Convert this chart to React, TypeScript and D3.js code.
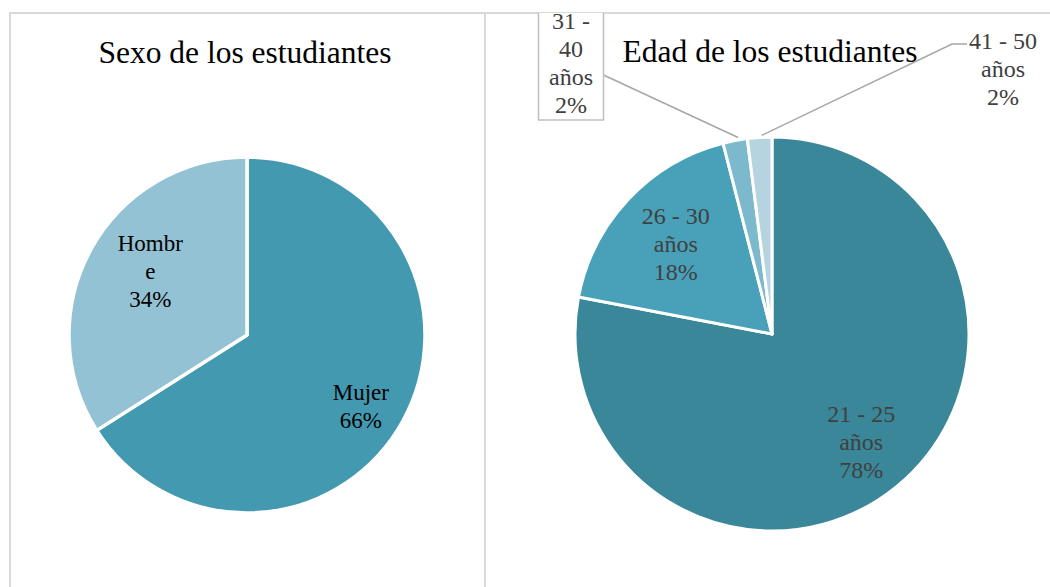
import React from 'react';
import * as d3 from 'd3';

// Data
const sexCategories = ['Mujer', 'Hombre'];
const sexValues = [66, 34];
const sexLabelLines = [['Mujer'], ['Hombr', 'e']];
const sexColors = ['#4399b0', '#93c2d4'];

const ageCategories = ['21 - 25 años', '26 - 30 años', '31 - 40 años', '41 - 50 años'];
const ageValues = [78, 18, 2, 2];
const ageLabelLines = [['21 - 25', 'años'], ['26 - 30', 'años'], ['31 -', '40', 'años'], ['41 - 50', 'años']];
const ageColors = ['#3a8799', '#48a1b8', '#7db9cd', '#b5d4e0'];

const W = 1050;
const H = 587;
const FONT = "'Liberation Serif', 'Times New Roman', serif";
const LINE = 28;

type Datum = { name: string; value: number; lines: string[]; color: string };

const pie = d3
  .pie<Datum>()
  .value((d) => d.value)
  .sort(null);

function centroidAt(a: d3.PieArcDatum<Datum>, r: number): [number, number] {
  const mid = (a.startAngle + a.endAngle) / 2;
  return [r * Math.sin(mid), -r * Math.cos(mid)];
}

function TextBlock({ x, y, lines, size, fill }: { x: number; y: number; lines: string[]; size: number; fill: string }) {
  const n = lines.length;
  return (
    <text x={x} textAnchor="middle" fontFamily={FONT} fontSize={size} fill={fill}>
      {lines.map((l, i) => (
        <tspan key={i} x={x} y={y + (i - (n - 1) / 2) * LINE + size * 0.33}>
          {l}
        </tspan>
      ))}
    </text>
  );
}

const App = () => {
  // left pie
  const sexData: Datum[] = sexCategories.map((c, i) => ({
    name: c,
    value: sexValues[i],
    lines: [...sexLabelLines[i], `${sexValues[i]}%`],
    color: sexColors[i],
  }));
  const sexArcs = pie(sexData);
  const sexR = 178;
  const sexCx = 247;
  const sexCy = 335;
  const sexArc = d3.arc<d3.PieArcDatum<Datum>>().innerRadius(0).outerRadius(sexR);
  const sexLabelR = [0.73, 0.62];
  const sexLabelDy = [9, -10];

  // right pie
  const ageData: Datum[] = ageCategories.map((c, i) => ({
    name: c,
    value: ageValues[i],
    lines: [...ageLabelLines[i], `${ageValues[i]}%`],
    color: ageColors[i],
  }));
  const ageArcs = pie(ageData);
  const ageR = 197;
  const ageCx = 772;
  const ageCy = 334;
  const ageArc = d3.arc<d3.PieArcDatum<Datum>>().innerRadius(0).outerRadius(ageR);
  const ageLabelR = [0.71, 0.67];

  const labelGray = '#404040';
  const leaderGray = '#a6a6a6';

  // outside labels for the two small slices
  const box31 = { x: 538.5, y: 2, w: 65, h: 118 };
  const tip31 = centroidAt(ageArcs[2], ageR);
  const tip41 = centroidAt(ageArcs[3], ageR);

  return (
    <svg width={W} height={H} style={{ position: 'absolute', left: 0, top: 0, background: '#fff' }}>
      <defs>
        <clipPath id="rightClip">
          <rect x={486} y={13} width={W - 486} height={H - 13} />
        </clipPath>
      </defs>

      {/* panel borders */}
      <line x1={9} x2={W} y1={13} y2={13} stroke="#d9d9d9" strokeWidth={2} />
      <line x1={10} x2={10} y1={12} y2={H} stroke="#d9d9d9" strokeWidth={2} />
      <line x1={485} x2={485} y1={12} y2={H} stroke="#d9d9d9" strokeWidth={2} />

      {/* left chart */}
      <text x={245} y={63} textAnchor="middle" fontFamily={FONT} fontSize={31.5} fill="#000">
        Sexo de los estudiantes
      </text>
      <g transform={`translate(${sexCx},${sexCy})`}>
        {sexArcs.map((a, i) => (
          <path key={i} d={sexArc(a) || ''} fill={a.data.color} stroke="#fff" strokeWidth={3.5} strokeLinejoin="round" />
        ))}
        {sexArcs.map((a, i) => {
          const [x, y] = centroidAt(a, sexR * sexLabelR[i]);
          return <TextBlock key={i} x={x} y={y + sexLabelDy[i]} lines={a.data.lines} size={23} fill="#000" />;
        })}
      </g>

      {/* right chart */}
      <g clipPath="url(#rightClip)">
        <text x={770} y={62} textAnchor="middle" fontFamily={FONT} fontSize={31.5} fill="#000">
          Edad de los estudiantes
        </text>
        <g transform={`translate(${ageCx},${ageCy})`}>
          {ageArcs.map((a, i) => (
            <path key={i} d={ageArc(a) || ''} fill={a.data.color} stroke="#fff" strokeWidth={3} strokeLinejoin="round" />
          ))}
          {ageArcs.slice(0, 2).map((a, i) => {
            const [x, y] = centroidAt(a, ageR * ageLabelR[i]);
            return <TextBlock key={i} x={x} y={y} lines={a.data.lines} size={24} fill={labelGray} />;
          })}
        </g>

        {/* 31 - 40 label with box and leader */}
        <polyline
          points={`${box31.x + box31.w},75 ${ageCx + tip31[0] + 3},${ageCy + tip31[1] - 3}`}
          fill="none"
          stroke={leaderGray}
          strokeWidth={1.5}
        />
        <rect x={box31.x} y={box31.y} width={box31.w} height={box31.h} fill="#fff" stroke="#bfbfbf" strokeWidth={1.5} />
        <TextBlock x={box31.x + box31.w / 2} y={63} lines={ageArcs[2].data.lines} size={24} fill={labelGray} />

        {/* 41 - 50 label and leader */}
        <polyline
          points={`967,44 952,44 ${ageCx + tip41[0] + 2},${ageCy + tip41[1] - 2}`}
          fill="none"
          stroke={leaderGray}
          strokeWidth={1.5}
        />
        <TextBlock x={1003} y={69} lines={ageArcs[3].data.lines} size={24} fill={labelGray} />
      </g>
    </svg>
  );
};

export default App;
